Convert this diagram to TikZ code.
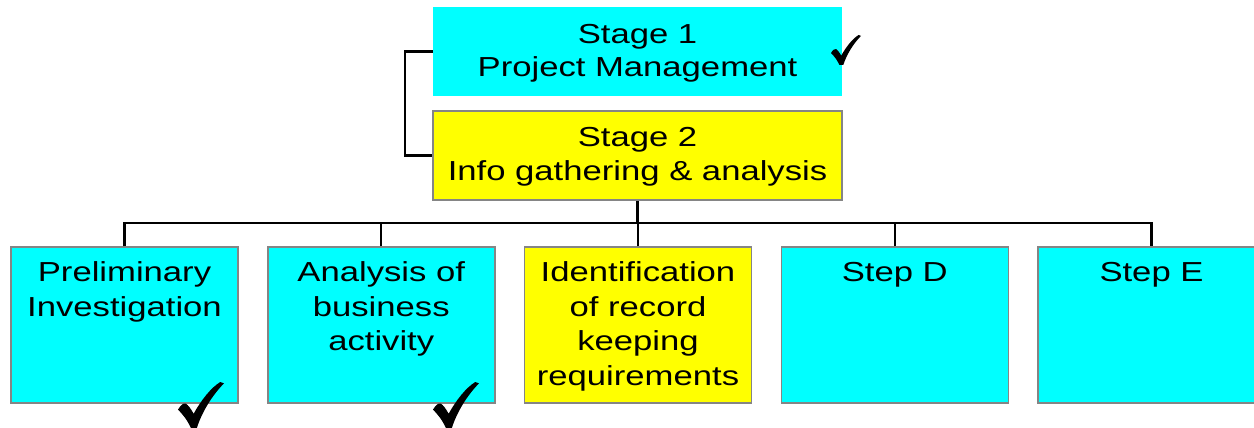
\documentclass[tikz,border=0pt]{standalone}
\usepackage{fontspec}
\setmainfont{Liberation Sans}[FakeStretch=1.26]
\begin{document}
\definecolor{boxcyan}{HTML}{00FFFF}
\definecolor{boxyellow}{HTML}{FFFF00}
\definecolor{edgegray}{HTML}{858585}
\tikzset{
  x=1pt, y=1pt,
  boxtext/.style={font=\fontsize{27.5}{34.5}\selectfont, align=center, inner sep=0pt, text=black},
  stagebox/.style={minimum width=409pt, minimum height=89pt, inner sep=0pt},
  stepbox/.style={minimum width=227pt, minimum height=156pt, inner sep=0pt, draw=edgegray, line width=1.5pt},
  steptext/.style={boxtext, anchor=north},
  link/.style={draw=black, line width=2.2pt},
  pics/checkmark/.style={code={
    \fill[black] (0.00,0.40) .. controls (0.06,0.50) and (0.12,0.55) .. (0.17,0.53)
      .. controls (0.22,0.50) and (0.28,0.42) .. (0.34,0.31)
      .. controls (0.50,0.60) and (0.72,0.88) .. (0.92,1.00) -- (1.00,0.97)
      .. controls (0.75,0.72) and (0.52,0.35) .. (0.41,0.00) -- (0.28,0.00)
      .. controls (0.20,0.18) and (0.10,0.30) .. (0.00,0.40) -- cycle;
  }},
}
\begin{tikzpicture}
\useasboundingbox (0,0) rectangle (1254,-428);
\clip (0,0) rectangle (1254,-428);

% stages
\node[stagebox, fill=boxcyan] (s1) at (637.5,-51.5) {};
\node[stagebox, fill=boxyellow, draw=edgegray, line width=1.5pt] (s2) at (637.5,-155.5) {};
\node[boxtext, font=\fontsize{27.5}{33}\selectfont] (st1) at ([yshift=-2pt]s1.center)
  {Stage 1\\Project Management};
\node[boxtext] (st2) at ([yshift=-1.5pt]s2.center) {Stage 2\\Info gathering \& analysis};

% steps of stage 2
\node[stepbox, fill=boxcyan]   (b1) at (124.5,-325) {};
\node[stepbox, fill=boxcyan]   (b2) at (381.25,-325) {};
\node[stepbox, fill=boxyellow] (b3) at (638,-325) {};
\node[stepbox, fill=boxcyan]   (b4) at (894.75,-325) {};
\node[stepbox, fill=boxcyan]   (b5) at (1151.5,-325) {};

\node[steptext] (t1) at ([yshift=-15.5pt]b1.north) {Preliminary\\Investigation};
\node[steptext] (t2) at ([yshift=-15.5pt]b2.north) {Analysis of\\business\\activity};
\node[steptext] (t3) at ([yshift=-15.5pt]b3.north) {Identification\\of record\\keeping\\requirements};
\node[steptext] (t4) at ([yshift=-15.5pt]b4.north) {Step D};
\node[steptext] (t5) at ([yshift=-15.5pt]b5.north) {Step E};

% connectors
\coordinate (bus) at (637.5,-222.7);
\draw[link] (s1.west) -- ++(-28,0) |- (s2.west);
\draw[link] (s2.south) -- (bus);
\draw[link] (b1.north) -- (b1.north |- bus) -- (b5.north |- bus) -- (b5.north);
\draw[link] (b2.north) -- (b2.north |- bus);
\draw[link] (b3.north) -- (b3.north |- bus);
\draw[link] (b4.north) -- (b4.north |- bus);

% completed marks
\pic[scale=30] (c1) at (831,-65) {checkmark};
\pic[scale=46] (c2) at (178,-428) {checkmark};
\pic[scale=46] (c3) at (433,-428) {checkmark};
\end{tikzpicture}
\end{document}
